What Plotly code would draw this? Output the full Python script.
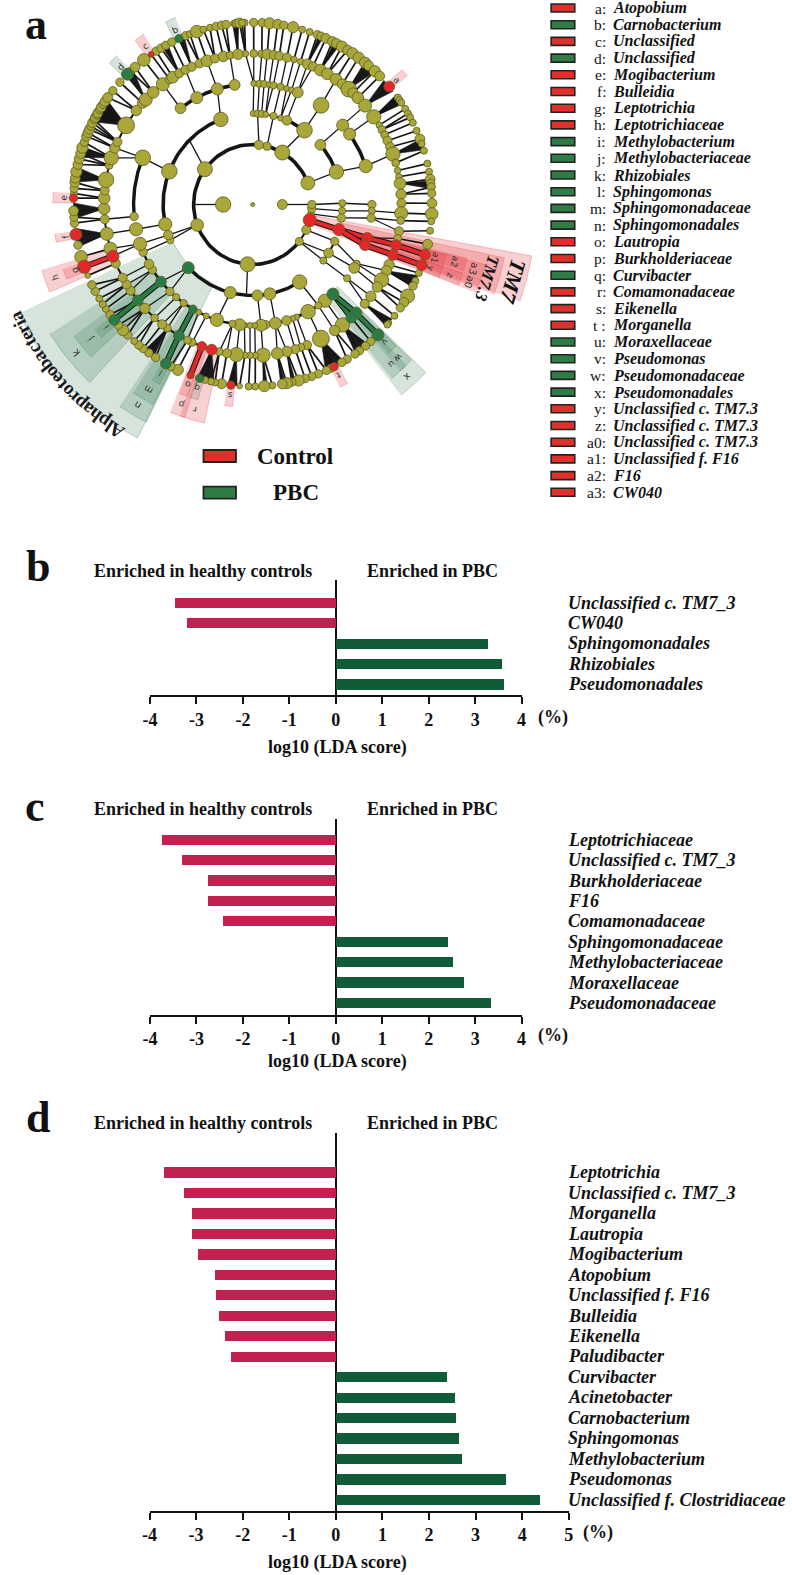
import numpy as np
import plotly.graph_objects as go

W, H = 792, 1575
SERIF = "Liberation Serif"
CTRL_BAR, PBC_BAR = "#C2214F", "#0F5C37"
OLIVE, OLIVE_EDGE = "#A9A73A", "#5C5A20"
CTRL_NODE, PBC_NODE = "#E5262B", "#2A7B45"

# ---------- panel b, c, d data ----------
b_taxa = ["Unclassified c. TM7_3", "CW040", "Sphingomonadales", "Rhizobiales", "Pseudomonadales"]
b_lda = [-3.47, -3.21, 3.28, 3.57, 3.63]
c_taxa = ["Leptotrichiaceae", "Unclassified c. TM7_3", "Burkholderiaceae", "F16", "Comamonadaceae",
          "Sphingomonadaceae", "Methylobacteriaceae", "Moraxellaceae", "Pseudomonadaceae"]
c_lda = [-3.74, -3.31, -2.75, -2.76, -2.42, 2.41, 2.53, 2.75, 3.35]
d_taxa = ["Leptotrichia", "Unclassified c. TM7_3", "Morganella", "Lautropia", "Mogibacterium", "Atopobium",
          "Unclassified f. F16", "Bulleidia", "Eikenella", "Paludibacter", "Curvibacter", "Acinetobacter",
          "Carnobacterium", "Sphingomonas", "Methylobacterium", "Pseudomonas", "Unclassified f. Clostridiaceae"]
d_lda = [-3.71, -3.27, -3.09, -3.09, -2.96, -2.60, -2.58, -2.51, -2.40, -2.26,
         2.38, 2.54, 2.57, 2.63, 2.70, 3.64, 4.38]
ticks_bc = [-4, -3, -2, -1, 0, 1, 2, 3, 4]
ticks_d = [-4, -3, -2, -1, 0, 1, 2, 3, 4, 5]

# ---------- legend of panel a ----------
legend_keys = ["a:", "b:", "c:", "d:", "e:", "f:", "g:", "h:", "i:", "j:", "k:", "l:", "m:", "n:", "o:", "p:",
               "q:", "r:", "s:", "t :", "u:", "v:", "w:", "x:", "y:", "z:", "a0:", "a1:", "a2:", "a3:"]
legend_names = ["Atopobium", "Carnobacterium", "Unclassified", "Unclassified", "Mogibacterium", "Bulleidia",
                "Leptotrichia", "Leptotrichiaceae", "Methylobacterium", "Methylobacteriaceae", "Rhizobiales",
                "Sphingomonas", "Sphingomonadaceae", "Sphingomonadales", "Lautropia", "Burkholderiaceae",
                "Curvibacter", "Comamonadaceae", "Eikenella", "Morganella", "Moraxellaceae", "Pseudomonas",
                "Pseudomonadaceae", "Pseudomonadales", "Unclassified c. TM7.3", "Unclassified c. TM7.3",
                "Unclassified c. TM7.3", "Unclassified f. F16", "F16", "CW040"]
legend_groups = list("CPCPCCCCPPPPPPCCPCCCPPPPCCCCCC")

# ---------- cladogram: ring radii and nodes (angle in degrees, abundance) ----------
ring_radius = [0, 30, 60, 91, 121, 151, 182]
ring1 = [(180, 14), (0, 9)]
ring2 = [(21, 12), (60, 13), (76, 7), (84, 8), (144, 13), (200, 11), (265, 13), (322, 7), (335, 8), (345, 11),
         (351, 6), (356, 7), (0, 7)]
ring3 = [(89.7, 5), (86.9, 6), (84.3, 6), (81.7, 5), (76.6, 6), (71.8, 5), (67.6, 8), (54.7, 13), (41, 9), (21, 12),
         (0.8, 6), (356, 6), (351.5, 7), (344, 10), (336.2, 7), (327.8, 8), (322, 6), (301.6, 12), (281, 10),
         (273, 9), (255.5, 10), (224, 10), (203, 6), (199.6, 8), (192.5, 11), (158.6, 13), (110.8, 12)]
ring4 = [(89.5, 5), (86.8, 6), (84.5, 6), (82, 5), (80, 6), (76.5, 6), (73.5, 5), (71, 5), (67.8, 9), (55, 13),
         (41, 10), (35.6, 10), (18.5, 11), (0, 7), (357, 6), (353.6, 7), (344, 9), (340.4, 9), (330.7, 6), (328.4, 9),
         (322.4, 6), (312.3, 10), (307.3, 11), (303.4, 6), (297.7, 12), (291.6, 5), (289.6, 5), (286.5, 8), (281, 10),
         (276.3, 7), (274, 10), (271, 5), (268.7, 5), (266, 5), (263.7, 10), (260.2, 6), (252.5, 11), (247, 5),
         (243, 5), (239.9, 7), (234.6, 6), (230, 6), (226, 7), (219.6, 9), (212.7, 7), (209.5, 8), (203.2, 7),
         (199, 11), (191.8, 11), (185.7, 7), (157.3, 13), (127.3, 9), (118, 10), (107.3, 10), (98.7, 9)]
ring5 = [(92.8, 5), (89.6, 6), (86.5, 6), (84.4, 8), (81.9, 7), (79.7, 7), (76.7, 7), (73.9, 5), (71.2, 5), (68.4, 8),
         (66.1, 7), (62.9, 9), (59.9, 9), (56, 9), (52.9, 8), (49.8, 12), (47.6, 8), (45, 9), (40.9, 10), (35.5, 11),
         (31.7, 5), (29.7, 6), (27.5, 6), (25, 7), (22.4, 7), (19.5, 11), (16, 6), (13, 5), (10.6, 5), (8, 9), (3.9, 8),
         (0.5, 7), (356.7, 10), (353.9, 6), (349.8, 7), (347, 6), (344.4, 9), (340.5, 9), (336.5, 8), (334, 8),
         (330, 11), (326.9, 8), (322.6, 8), (318.9, 7), (314, 10), (311.5, 9), (307.1, 11), (303.4, 8), (297.3, 13),
         (291.4, 7), (288.9, 6), (286.6, 7), (283.3, 8), (279.5, 9), (274, 11), (271, 5), (269, 5), (267, 5),
         (263.7, 11), (260, 7), (257, 6), (254, 9), (250, 8), (246, 6), (244, 6), (240.2, 9), (235, 6), (232.5, 7),
         (228.7, 6), (223.5, 8), (219.4, 9), (214.8, 7), (212, 7), (209, 7), (203, 7), (200, 10), (197, 10),
         (191.2, 10), (185.6, 7), (181.6, 9), (177.6, 9), (174.7, 7), (170.6, 12), (165, 6), (162, 11), (158, 8),
         (155.5, 7), (148.4, 13), (141.5, 8), (137.8, 8), (136, 10), (132, 9), (127.2, 10), (124, 7), (122.5, 9),
         (119.6, 7), (116.9, 7), (114.2, 7), (110.9, 7), (107.9, 9), (104.7, 7), (101.4, 8), (98.8, 6), (95.7, 8)]
ring6 = [(92.6, 5), (89.7, 6), (87, 6), (84.6, 8), (82, 7), (80, 6), (77, 8), (74, 5), (71.5, 5), (68.9, 6), (67.6, 6),
         (65.9, 7), (63.6, 7), (62.2, 7), (60.2, 8), (58, 7), (56.2, 8), (53.8, 8), (51.2, 8), (49.7, 7), (47.1, 8),
         (44.9, 7), (40.4, 9), (36, 5), (35, 5), (34, 5), (31.7, 5), (30, 5), (28.6, 5), (26.7, 5), (23.9, 5), (21.1, 7),
         (19.5, 5), (17.2, 5), (13, 5), (10.4, 5), (8, 7), (6.7, 6), (5.5, 6), (3.5, 6), (0.4, 7), (357, 9), (354.7, 5),
         (351.7, 5), (347.4, 7), (344, 9), (340.5, 9), (337.9, 5), (335.2, 5), (333.4, 6), (329.8, 10), (327.5, 7),
         (325.4, 6), (322.3, 5), (319.5, 4), (318.7, 5), (314.3, 10), (311.2, 6), (309, 6), (306.5, 6), (304.8, 6),
         (301.8, 6), (299.8, 6), (297, 7), (296, 6), (294.3, 6), (291.5, 6), (289.2, 6), (287, 6), (284.8, 8), (282.6, 6),
         (281, 8), (279.5, 7), (276.3, 5), (273.7, 8), (270.8, 5), (268.7, 5), (265.8, 4), (263, 7), (260, 7), (257.9, 5),
         (256.5, 5), (254.6, 5), (252.8, 7), (249.7, 6), (245.3, 8), (242.8, 6), (241, 9), (237.2, 6), (234.6, 6),
         (232.3, 6), (230.5, 6), (228.6, 5), (225.8, 6), (223.7, 8), (221.5, 6), (219.4, 9), (217.3, 6), (215, 5),
         (213.2, 5), (211.1, 5), (208.5, 6), (206.2, 6), (203, 4), (200, 11), (196.7, 9), (192.9, 6), (189.5, 10),
         (185.9, 6), (184, 6), (182, 7), (178, 7), (176.5, 5), (174.9, 6), (173, 7), (171.7, 7), (169.6, 8), (167.3, 7),
         (165.5, 7), (163.7, 7), (161.8, 8), (160, 6), (158, 7), (156.8, 7), (155.6, 7), (154.5, 6), (153.3, 7), (152.2, 6),
         (151.4, 7), (150.5, 6), (149.8, 7), (148.6, 6), (147.7, 7), (146.6, 6), (145.5, 7), (144, 7), (141.3, 6),
         (137.8, 6), (134.3, 10), (133, 6), (131, 7), (127.4, 9), (124.5, 5), (122.6, 6), (120.8, 6), (119, 6), (116.8, 6),
         (114.3, 7), (112, 6), (110.5, 5), (108.2, 9), (106, 5), (103.8, 5), (101.8, 6), (100, 6), (98.5, 6), (95.9, 5),
         (95.2, 6), (94.2, 7), (93.4, 5)]

# parent (ring, angle) -> child (ring, angle)
links = [(1, 180, 2, 180), (1, 0, 2, 0), (2, 0, 3, 0.8), (2, 356, 3, 356), (2, 351, 3, 351.5), (3, 0.8, 4, 0),
         (3, 356, 4, 357), (3, 351.5, 4, 353.6), (2, 335, 3, 336.2), (2, 322, 3, 322), (2, 322, 3, 327.8),
         (3, 336.2, 4, 330.7), (3, 327.8, 4, 328.4), (3, 322, 4, 322.4), (2, 84, 3, 86.9),
         (2, 76, 3, 76.6), (2, 60, 3, 54.7), (2, 21, 3, 21),
         (3, 21, 4, 18.5), (3, 41, 4, 41), (3, 54.7, 4, 55), (3, 89.7, 4, 89.5), (3, 86.9, 4, 86.8), (3, 84.3, 4, 84.5),
         (3, 81.7, 4, 82), (3, 81.7, 4, 80), (3, 76.6, 4, 76.5), (3, 71.8, 4, 73.5), (3, 71.8, 4, 71), (3, 67.6, 4, 67.8),
         (3, 273, 4, 274), (3, 281, 4, 281), (3, 301.6, 4, 303.4), (3, 255.5, 4, 252.5), (3, 224, 4, 219.6),
         (3, 224, 4, 226), (2, 265, 3, 266), (2, 200, 3, 199.6), (2, 200, 3, 203), (2, 144, 3, 135), (3, 158.6, 4, 157.3),
         (3, 192.5, 4, 191.8), (3, 110.8, 4, 107.3), (3, 199.6, 4, 199), (3, 203, 4, 203.2), (4, 191.8, 5, 191.2),
         (4, 185.7, 5, 185.6), (4, 157.3, 5, 158), (4, 157.3, 5, 162), (4, 127.3, 5, 127.2), (4, 118, 5, 116.9),
         (4, 107.3, 5, 107.9), (4, 98.7, 5, 98.8), (4, 55, 5, 56), (4, 41, 5, 40.9), (4, 35.6, 5, 35.5), (4, 18.5, 5, 19.5),
         (4, 199, 5, 200), (4, 199, 5, 197)]
# ring-5 sectors whose nodes are wired to the nearest ring-4 node
wired_sectors = [(66, 93), (205, 247), (255, 335), (346, 360)]
# (ring, start angle, end angle, weight)
arcs = [(2, 21, 322, 3.6), (2, 322, 360, 2), (3, 110.8, 192.5, 3.6), (3, 224, 301.6, 3.4), (3, 21, 41, 3.6),
        (3, 54.7, 67.6, 3.6), (3, 67.6, 89.7, 1.6), (3, 322, 336, 2), (4, 98.7, 127.3, 3.6), (4, 157.3, 185.7, 3.4),
        (4, 18.5, 35.6, 3.6), (4, 67.8, 89.5, 1.4), (4, 199, 275, 2.4), (4, 276, 307, 3), (5, 93, 147, 2), (5, 150, 197, 2),
        (5, 205, 270, 2)]
# dense families: ring-5 parent angle, leaf span start, leaf span end
fan_parent = [148.4, 162, 170.6, 181.6, 191.2, 136, 95.7, 114.2, 119.6, 68.4, 62.9, 49.8, 40.9, 35.5, 19.5, 8, 334,
              318.9, 307.1, 297.3, 235, 254, 263.7, 274, 279.5, 283.3]
fan_start = [144.6, 161.6, 168.2, 179.5, 187.5, 132, 94.5, 112.5, 118.3, 66.8, 61, 47, 38.5, 33.5, 17.5, 5, 333, 318, 305,
             294, 233, 252, 262, 273.3, 279, 282.8]
fan_end = [153, 165, 173, 184.5, 193.5, 135, 96.5, 114.5, 120.2, 68.4, 63, 51, 43, 37, 21, 7.5, 337, 321, 310, 300.6,
           236.5, 257.5, 265, 274.7, 280.5, 283.8]
# biomarker: label, ring, angle, group, half-span of its shaded sector
biomarkers = [("a", 6, 40.4, "C", 1.2), ("b", 6, 114.3, "P", 1.5), ("c", 6, 124.5, "C", 1.5), ("d", 6, 134.3, "P", 1.5),
              ("e", 6, 178, "C", 1.5), ("f", 6, 189.5, "C", 1.2), ("g", 6, 200, "C", 1.5), ("h", 5, 200, "C", 3),
              ("i", 6, 219.4, "P", 1.5), ("j", 5, 219.4, "P", 3.5), ("k", 4, 219.6, "P", 7.5), ("l", 6, 241, "P", 1.3),
              ("m", 5, 240.2, "P", 3), ("n", 4, 239.9, "P", 3.7), ("o", 6, 249.7, "C", 1.3), ("p", 5, 250, "C", 2),
              ("q", 6, 252.8, "P", 1.3), ("r", 5, 254, "C", 3.3), ("s", 6, 263, "C", 1.2), ("t", 6, 297, "C", 1.2),
              ("u", 5, 311.5, "P", 2.5), ("v", 6, 314.3, "P", 1.5), ("w", 5, 314, "P", 2), ("x", 4, 312.3, "P", 4),
              ("y", 6, 340.5, "C", 1.7), ("z", 5, 340.5, "C", 1.7), ("a0", 4, 340.4, "C", 1.7), ("a1", 6, 344, "C", 1.7),
              ("a2", 5, 344.4, "C", 1.7), ("a3", 4, 344, "C", 1.7), ("", 3, 344, "C", 4.2), ("", 2, 345, "C", 4.7),
              ("", 3, 224, "P", 19.4)]
biomarker_edges = [(5, 200, 6, 200), (5, 219.4, 6, 219.4), (4, 219.6, 5, 219.4), (5, 240.2, 6, 241), (4, 239.9, 5, 240.2),
                   (5, 250, 6, 249.7), (4, 312.3, 5, 311.5), (4, 312.3, 5, 314), (5, 314, 6, 314.3), (2, 345, 3, 344),
                   (3, 344, 4, 344), (3, 344, 4, 340.4), (4, 344, 5, 344.4), (4, 340.4, 5, 340.5), (5, 344.4, 6, 344),
                   (5, 340.5, 6, 340.5)]
edge_groups = "CPPPPCPPPCCCCCCC"

# ---------- geometry helpers ----------
rings = {1: ring1, 2: ring2, 3: ring3, 4: ring4, 5: ring5, 6: ring6}
NODE_SCALE = {1: 1.1, 2: 1.15, 3: 1.2, 4: 1.2, 5: 1.3, 6: 1.4}
def pol(r, a):
    t = np.radians(a)
    return r * np.cos(t), r * np.sin(t)
def node(ring, a):
    return pol(ring_radius[ring], a)
def xp(px):
    return px / W
def yp(py):
    return 1 - py / H
def adiff(a, b):
    return abs((a - b + 180) % 360 - 180)
def nearest(ring, a):
    return min((n[0] for n in rings[ring]), key=lambda v: adiff(v, a))
def in_sectors(a, sectors):
    return any(lo <= a <= hi for lo, hi in sectors)
def seg_xy(segs):
    xs, ys = [], []
    for rp, ap, rc, ac in segs:
        x0, y0 = node(rp, ap)
        x1, y1 = node(rc, ac)
        xs += [x0, x1, None]
        ys += [y0, y1, None]
    return xs, ys

fig = go.Figure()
CL = dict(xaxis="x", yaxis="y", hoverinfo="skip", showlegend=False)

# shaded sectors
sector_out = {6: 203, 5: 224, 4: 243, 3: 261, 2: 288}
label_r = {6: 192, 5: 213, 4: 233}
annotations = []
for lab, ring, ang, grp, half in biomarkers:
    ro, ri = sector_out[ring], ring_radius[ring] - 2
    tt = np.linspace(ang - half, ang + half, 14)
    xo, yo = pol(ro, tt)
    xi, yi = pol(ri, tt[::-1])
    col = "rgba(232,60,66,%s)" if grp == "C" else "rgba(52,122,82,%s)"
    a_fill = 0.24 if grp == "C" else 0.2
    fig.add_trace(go.Scatter(x=list(xo) + list(xi), y=list(yo) + list(yi), mode="lines", fill="toself",
                             fillcolor=col % a_fill, line=dict(color=col % 0.3, width=1), **CL))
    if lab:
        lx, ly = pol(label_r[ring], ang)
        annotations.append(dict(x=lx, y=ly, xref="x", yref="y", text=lab, showarrow=False,
                                textangle=(90 - ang) % 360,
                                font=dict(family="DejaVu Sans", size=9 if ring > 4 else 10, color="#333333")))

# black fans
fx, fy = [], []
for p, s, e in zip(fan_parent, fan_start, fan_end):
    x0, y0 = node(5, p)
    xa, ya = pol(ring_radius[6], np.linspace(s, e, 6))
    fx += [x0] + list(xa) + [x0, None]
    fy += [y0] + list(ya) + [y0, None]
fig.add_trace(go.Scatter(x=fx, y=fy, mode="lines", fill="toself", fillcolor="#1a1a1a",
                         line=dict(color="#1a1a1a", width=0.6), **CL))

# thin links
wired = [(4, nearest(4, a), 5, a) for a, _ in ring5 if in_sectors(a, wired_sectors)]
lx, ly = seg_xy(links + wired)
fig.add_trace(go.Scatter(x=lx, y=ly, mode="lines", line=dict(color="#151515", width=1.3), **CL))
# leaves
leaf = [(5, nearest(5, a), 6, a) for a, _ in ring6]
lx, ly = seg_xy(leaf)
fig.add_trace(go.Scatter(x=lx, y=ly, mode="lines", line=dict(color="#151515", width=1.7), **CL))
# arcs
for ring, s, e, w in arcs:
    tt = np.linspace(s, e, 90)
    ax, ay = pol(ring_radius[ring], tt)
    fig.add_trace(go.Scatter(x=ax, y=ay, mode="lines", line=dict(color="#151515", width=w), **CL))
# biomarker edges
for seg, g in zip(biomarker_edges, edge_groups):
    ex, ey = seg_xy([seg])
    fig.add_trace(go.Scatter(x=ex, y=ey, mode="lines", line=dict(color="#151515", width=6), **CL))
    fig.add_trace(go.Scatter(x=ex, y=ey, mode="lines",
                             line=dict(color=CTRL_NODE if g == "C" else PBC_NODE, width=4), **CL))

# nodes
bio = {(b[1], b[2]): b[3] for b in biomarkers}
nx, ny, ns, nc = [], [], [], []
for group_pass in (False, True):
    for ring in (6, 5, 4, 3, 2, 1):
        for a, s in rings[ring]:
            g = bio.get((ring, a))
            if (g is not None) != group_pass:
                continue
            x, y = node(ring, a)
            nx.append(x); ny.append(y); ns.append(s * (NODE_SCALE[ring] if g is None else 1.2))
            nc.append(OLIVE if g is None else (CTRL_NODE if g == "C" else PBC_NODE))
nx.append(0); ny.append(0); ns.append(4); nc.append(OLIVE)
fig.add_trace(go.Scatter(x=nx, y=ny, mode="markers",
                         marker=dict(size=ns, color=nc, opacity=1, line=dict(color=OLIVE_EDGE, width=0.8)), **CL))

# curved clade names
char_w = {"l": .6, "i": .6, "t": .7, "r": .8, "e": .85, "A": 1.35, "p": 1.05, "h": 1.05, "o": 1.0, "b": 1.05, "a": 1.0, "c": .9}
name = "Alphaproteobacteria"
units = np.cumsum([char_w.get(ch, 1) for ch in name]) - np.array([char_w.get(ch, 1) for ch in name]) / 2
units = units / units[-1]
for ch, u in zip(name, units):
    th = 240 - 35 * u
    tx, ty = pol(265, th)
    annotations.append(dict(x=tx, y=ty, xref="x", yref="y", text="<b>%s</b>" % ch, showarrow=False,
                            textangle=(90 - th) % 360, font=dict(family=SERIF, size=19, color="#1a1a1a")))
for txt, ang, r, size in (("TM7", 343.7, 275, 22), ("TM7.3", 342.7, 249, 17)):
    tx, ty = pol(r, ang)
    annotations.append(dict(x=tx, y=ty, xref="x", yref="y", text="<b><i>%s</i></b>" % txt, showarrow=False,
                            textangle=(90 - ang) % 360, font=dict(family=SERIF, size=size, color="#111111")))

layout = dict(
    width=W, height=H, margin=dict(l=0, r=0, t=0, b=0), paper_bgcolor="white", plot_bgcolor="rgba(0,0,0,0)",
    showlegend=False, bargap=0,
    xaxis=dict(domain=[0, 1], range=[-249.5, 542.5], visible=False, fixedrange=True),
    yaxis=dict(domain=[yp(520), 1], range=[-315.5, 204.5], visible=False, fixedrange=True),
)

# ---------- bar panels ----------
panels = [
    ("2", b_taxa, b_lda, ticks_bc, 145.2, 522.5, 579.7, 695, 602.5, 20.4, 570.5, 717, 747, 554.7),
    ("3", c_taxa, c_lda, ticks_bc, 145.2, 522.5, 819.2, 1014.5, 839.8, 20.4, 808.5, 1035.5, 1061.5, 554.7),
    ("4", d_taxa, d_lda, ticks_d, 144.7, 570.4, 1132.7, 1510.7, 1172.3, 20.46, 1123.3, 1532, 1562, 600.5),
]
for sfx, taxa, vals, ticks, xl, xr, top, bot, y0, step, head_y, tick_y, title_y, pct_x in panels:
    pos = list(range(len(taxa)))
    fig.add_trace(go.Bar(x=vals, y=pos, orientation="h", width=0.5, xaxis="x" + sfx, yaxis="y" + sfx,
                         marker=dict(color=[CTRL_BAR if v < 0 else PBC_BAR for v in vals], line=dict(width=0)),
                         hoverinfo="skip", showlegend=False))
    layout["xaxis" + sfx] = dict(domain=[xp(xl), xp(xr)], range=[ticks[0], ticks[-1]], anchor="y" + sfx,
                                 tickmode="array", tickvals=ticks, ticktext=[str(t) for t in ticks],
                                 showline=True, linecolor="#111111", linewidth=2, ticks="outside", ticklen=7,
                                 tickwidth=1.6, tickcolor="#111111", showgrid=False,
                                 zeroline=True, zerolinecolor="#111111", zerolinewidth=1.6,
                                 tickfont=dict(family=SERIF, size=18, color="#111111", weight="bold"),
                                 fixedrange=True)
    layout["yaxis" + sfx] = dict(domain=[yp(bot), yp(top)], range=[(bot - y0) / step, (top - y0) / step],
                                 anchor="x" + sfx, visible=False, fixedrange=True)
    for t, p in zip(taxa, pos):
        annotations.append(dict(x=xp(568), y=p, xref="paper", yref="y" + sfx, xanchor="left", yanchor="middle",
                                text="<b><i>%s</i></b>" % t, showarrow=False,
                                font=dict(family=SERIF, size=18, color="#111111")))
    for text, x, anchor, y, size in (("Enriched in healthy controls", 86, "left", head_y, 18),
                                     ("Enriched in PBC", 364, "left", head_y, 18),
                                     ("log10 (LDA score)", 336, "center", title_y, 18),
                                     ("(%)", pct_x, "center", tick_y, 18)):
        annotations.append(dict(x=xp(x), y=yp(y), xref="paper", yref="paper", xanchor=anchor, yanchor="middle",
                                text="<b>%s</b>" % text, showarrow=False,
                                font=dict(family=SERIF, size=size, color="#111111")))

# panel letters
for letter, x, y in (("a", 29, 24), ("b", 31, 566), ("c", 28, 806), ("d", 31.6, 1117)):
    annotations.append(dict(x=xp(x), y=yp(y), xref="paper", yref="paper", xanchor="center", yanchor="middle",
                            text="<b>%s</b>" % letter, showarrow=False,
                            font=dict(family=SERIF, size=44, color="#111111")))

# legend of panel a
shapes = []
for i, (k, n, g) in enumerate(zip(legend_keys, legend_names, legend_groups)):
    yc = 8 + i * 16.7
    shapes.append(dict(type="rect", xref="paper", yref="paper", x0=xp(552.5), x1=xp(576.5), y0=yp(yc - 4), y1=yp(yc + 4),
                       fillcolor="#E0302A" if g == "C" else "#2F7C45", line=dict(color="#222222", width=1.6)))
    annotations.append(dict(x=xp(610), y=yp(yc), xref="paper", yref="paper", xanchor="right", yanchor="middle",
                            text=k, showarrow=False, font=dict(family=SERIF, size=15.5, color="#111111")))
    annotations.append(dict(x=xp(613), y=yp(yc), xref="paper", yref="paper", xanchor="left", yanchor="middle",
                            text="<b><i>%s</i></b>" % n, showarrow=False, font=dict(family=SERIF, size=16, color="#111111")))
for g, text, yc, x in (("C", "Control", 456, 252), ("P", "PBC", 492.7, 268.5)):
    shapes.append(dict(type="rect", xref="paper", yref="paper", x0=xp(199.5), x1=xp(232.5), y0=yp(yc - 6), y1=yp(yc + 6),
                       fillcolor="#E0302A" if g == "C" else "#2F7C45", line=dict(color="#222222", width=1.8)))
    annotations.append(dict(x=xp(x), y=yp(yc), xref="paper", yref="paper", xanchor="left", yanchor="middle",
                            text="<b>%s</b>" % text, showarrow=False, font=dict(family=SERIF, size=23, color="#111111")))

layout["annotations"] = annotations
layout["shapes"] = shapes
fig.update_layout(**layout)
fig.write_html("out.html", config=dict(displayModeBar=False), post_script="document.body.style.margin='0';")
